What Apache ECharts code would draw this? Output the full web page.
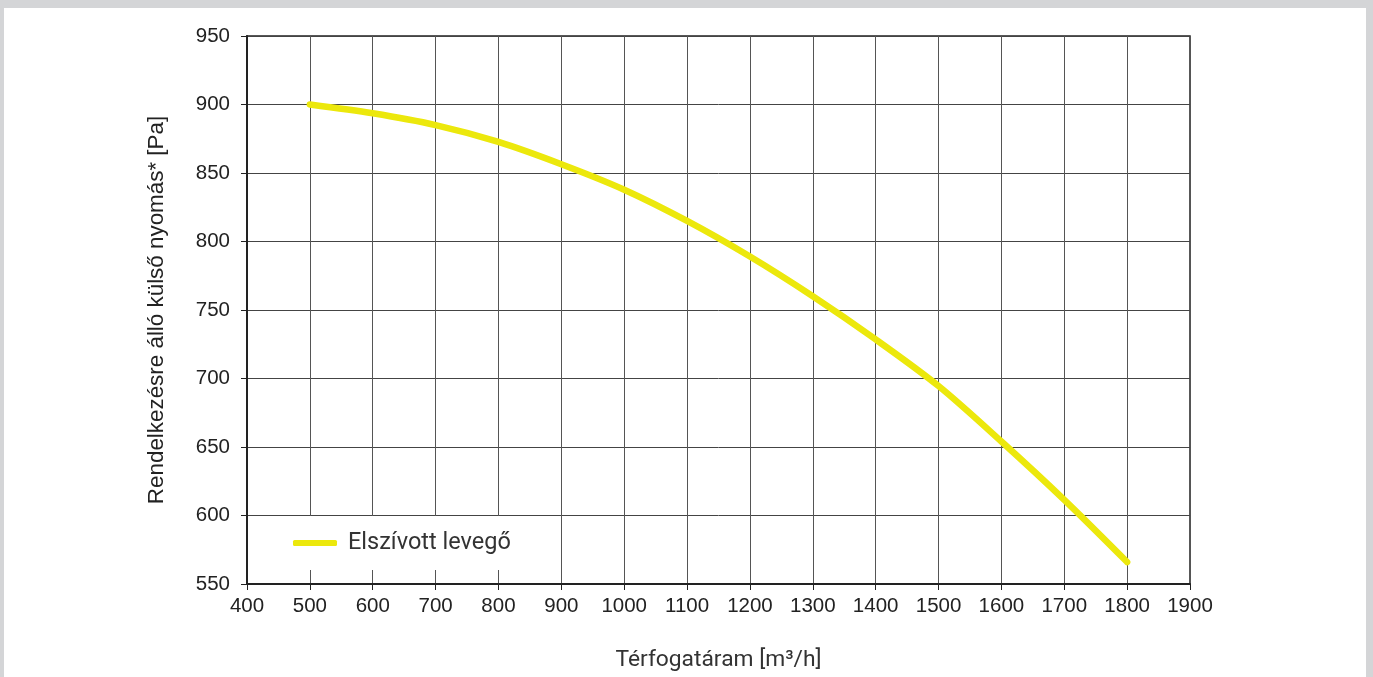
<!DOCTYPE html>
<html>
<head>
<meta charset="utf-8">
<script src="https://cdn.jsdelivr.net/npm/echarts@6/dist/echarts.min.js"></script>
<style>
html,body{margin:0;padding:0;width:1373px;height:677px;overflow:hidden;background:#d4d5d7;}
#panel{position:absolute;left:4px;top:8px;width:1362px;height:680px;background:#fff;}
#chart{position:absolute;left:0;top:0;width:1373px;height:677px;}
</style>
</head>
<body>
<div id="panel"></div>
<div id="chart"></div>
<script>
const xTitle = 'Térfogatáram [m³/h]';
const yTitle = 'Rendelkezésre álló külső nyomás* [Pa]';
const seriesName = 'Elszívott levegő';
const airflow = [500, 600, 700, 800, 900, 1000, 1100, 1200, 1300, 1400, 1500, 1600, 1700, 1800];
const pressure = [900, 893.6, 885, 872.7, 856.4, 837.8, 815, 789, 760, 728.5, 694.5, 654, 611.4, 566];
const xMin = 400, xMax = 1900, xStep = 100;
const yMin = 550, yMax = 950, yStep = 50;

const chart = echarts.init(document.getElementById('chart'), null, {renderer: 'canvas'});
const lineColor = '#ece80c';
const dark = '#222';
chart.setOption({
  animation: false,
  backgroundColor: 'transparent',
  grid: {left: 247, right: 183, top: 36, bottom: 92, show: true, borderColor: dark, borderWidth: 1.5, backgroundColor: 'transparent'},
  legend: {
    left: 278, top: 516,
    backgroundColor: '#fff',
    padding: [15, 38, 15, 15],
    itemWidth: 44, itemHeight: 6,
    data: [{name: seriesName, icon: 'roundRect'}],
    textStyle: {fontFamily: 'Roboto', fontSize: 23.5, color: '#333', padding: [0, 0, 0, 6]}
  },
  xAxis: {
    type: 'value', min: xMin, max: xMax, interval: xStep,
    name: xTitle, nameLocation: 'middle', nameGap: 65,
    nameTextStyle: {fontFamily: 'Roboto', fontSize: 22.8, color: '#333'},
    axisLine: {show: true, lineStyle: {color: dark, width: 2}},
    axisTick: {show: true, length: 6, lineStyle: {color: dark, width: 1}},
    axisLabel: {margin: 12, fontFamily: 'Liberation Sans, Arial', fontSize: 20.5, color: dark, formatter: v => String(v)},
    splitLine: {show: true, lineStyle: {color: '#555', width: 1}}
  },
  yAxis: {
    type: 'value', min: yMin, max: yMax, interval: yStep,
    name: yTitle, nameLocation: 'middle', nameGap: 79, nameRotate: 90,
    nameTextStyle: {fontFamily: 'Liberation Sans, Arial', fontSize: 22.4, color: dark},
    axisLine: {show: true, lineStyle: {color: dark, width: 2}},
    axisTick: {show: true, length: 6, lineStyle: {color: dark, width: 1}},
    axisLabel: {margin: 17, fontFamily: 'Liberation Sans, Arial', fontSize: 20.5, color: dark, formatter: v => String(v)},
    splitLine: {show: true, lineStyle: {color: '#444', width: 1}}
  },
  series: [{
    name: seriesName,
    type: 'line',
    smooth: 0.3,
    showSymbol: false,
    symbol: 'none',
    itemStyle: {color: lineColor},
    lineStyle: {color: lineColor, width: 6.5, cap: 'round'},
    data: airflow.map((x, i) => [x, pressure[i]])
  }]
});
</script>
</body>
</html>
